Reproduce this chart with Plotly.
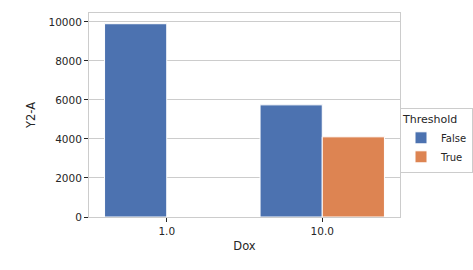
import plotly.graph_objects as go

categories = ["1.0", "10.0"]
false_vals = [9910, 5750]
true_vals = [0, 4110]
series_names = ["False", "True"]
colors = ["#4c72b0", "#dd8452"]
y_ticks = [0, 2000, 4000, 6000, 8000, 10000]

fig = go.Figure()
for name, vals, c in zip(series_names, [false_vals, true_vals], colors):
    fig.add_trace(go.Bar(x=categories, y=vals, name=name,
                         marker=dict(color=c, line=dict(color="white", width=1))))

fig.update_layout(
    width=473, height=270,
    margin=dict(l=89, r=73, t=13, b=53, autoexpand=False),
    paper_bgcolor="white", plot_bgcolor="white",
    font=dict(family="DejaVu Sans", size=10.5, color="#262626"),
    barmode="group", bargap=0.2, bargroupgap=0.0,
    showlegend=True,
    legend=dict(title=dict(text="Threshold", font=dict(size=11)),
                xref="container", yref="container",
                x=400/473, xanchor="left", y=1 - 108/270, yanchor="top",
                bordercolor="#cccccc", borderwidth=1, bgcolor="white",
                font=dict(size=10), tracegroupgap=0),
    xaxis=dict(title=dict(text="Dox", font=dict(size=11.5), standoff=6),
               showgrid=False, showline=True, linecolor="#cccccc", mirror=True,
               ticks="outside", ticklen=4, tickcolor="#262626",
               range=[-0.5, 1.5]),
    yaxis=dict(title=dict(text="Y2-A", font=dict(size=11.5), standoff=10),
               range=[0, 10460], tickvals=y_ticks,
               ticktext=[str(v) for v in y_ticks],
               showgrid=True, gridcolor="#cccccc", gridwidth=1,
               showline=True, linecolor="#cccccc", mirror=True,
               ticks="outside", ticklen=4, tickcolor="#262626", zeroline=False),
)
fig.write_html("out.html")
